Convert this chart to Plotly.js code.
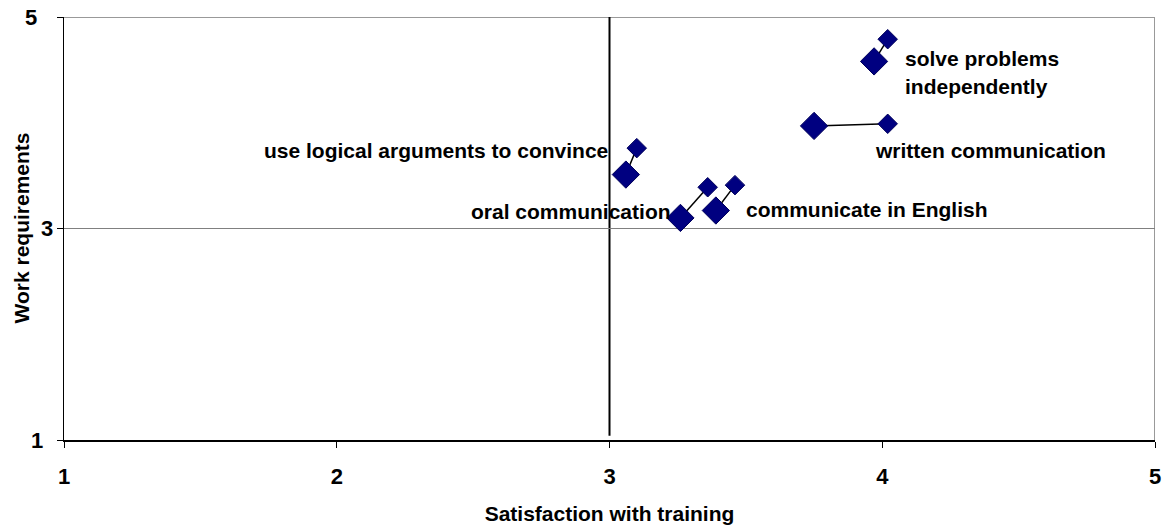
<!DOCTYPE html>
<html>
<head>
<meta charset="utf-8">
<script src="https://cdn.plot.ly/plotly-3.0.1.min.js"></script>
<style>
html,body{margin:0;padding:0;background:#fff;}
#chart{width:1163px;height:525px;}
</style>
</head>
<body>
<div id="chart"></div>
<script>
// Skills
var skills = ["solve problems<br>independently", "written communication", "use logical arguments to convince", "oral communication", "communicate in English"];
// Group A (small markers)
var satisfactionA = [4.02, 4.02, 3.10, 3.36, 3.46];
var workA = [4.79, 3.99, 3.76, 3.39, 3.41];
// Group B (large markers)
var satisfactionB = [3.97, 3.75, 3.06, 3.26, 3.39];
var workB = [4.58, 3.97, 3.51, 3.10, 3.17];
var xTicks = [1, 2, 3, 4, 5];
var yTicks = [1, 3, 5];
var midpoint = 3;
var xTitle = "Satisfaction with training";
var yTitle = "Work requirements";

// connectors
var lx = [], ly = [];
for (var i = 0; i < skills.length; i++) {
  lx.push(satisfactionA[i], satisfactionB[i], null);
  ly.push(workA[i], workB[i], null);
}

var navy = '#000080';
var traces = [
  {x: lx, y: ly, mode: 'lines', line: {color: '#000000', width: 1.5}, hoverinfo: 'skip', showlegend: false},
  {x: satisfactionB, y: workB, mode: 'markers', marker: {symbol: 'diamond', size: 21, color: navy, line: {color: '#00005a', width: 1}}, showlegend: false},
  {x: satisfactionA, y: workA, mode: 'markers', marker: {symbol: 'diamond', size: 15, color: navy, line: {color: '#00005a', width: 1}}, showlegend: false}
];

// label placement (pixel offsets relative to a point)
var labelPlace = [
  {ref: 'A', xshift: 15, yshift: -33, xanchor: 'left', lineGap: 28},
  {ref: 'A', xshift: -15, yshift: -27, xanchor: 'left'},
  {ref: 'B', xshift: -16, yshift: 24, xanchor: 'right'},
  {ref: 'B', xshift: -7, yshift: 6, xanchor: 'right'},
  {ref: 'B', xshift: 28, yshift: 1, xanchor: 'left'}
];
var annotations = [];
var lblFont = {family: 'Liberation Sans, Arial, sans-serif', size: 21, color: '#000000'};
for (var j = 0; j < skills.length; j++) {
  var p = labelPlace[j];
  var px = p.ref === 'A' ? satisfactionA[j] : satisfactionB[j];
  var py = p.ref === 'A' ? workA[j] : workB[j];
  var lines = skills[j].split('<br>');
  var n = lines.length;
  for (var k = 0; k < n; k++) {
    annotations.push({
      x: px, y: py, xref: 'x', yref: 'y', text: '<b>' + lines[k] + '</b>',
      showarrow: false, xanchor: p.xanchor, yanchor: 'middle',
      xshift: p.xshift, yshift: p.yshift + ((n - 1) / 2 - k) * (p.lineGap || 0),
      font: lblFont
    });
  }
}
var titleFont = {family: 'Liberation Sans, Arial, sans-serif', size: 21, color: '#000000'};
annotations.push({
  xref: 'paper', yref: 'paper', x: 0, y: 0.5, xshift: -43, xanchor: 'center', yanchor: 'middle',
  textangle: -90, showarrow: false, text: '<b>' + yTitle + '</b>', font: titleFont
});

var tickFont = {family: 'Liberation Sans, Arial, sans-serif', size: 22, color: '#000000'};
// y tick labels (placed as in the original, slightly staggered)
var yTickShift = {1: -19, 3: -9, 5: -25};
yTicks.forEach(function (v) {
  annotations.push({
    xref: 'paper', yref: 'y', x: 0, y: v, xanchor: 'right', yanchor: 'middle',
    xshift: yTickShift[v], yshift: 0, showarrow: false, text: '<b>' + v + '</b>', font: tickFont
  });
});

var shapes = [
  {type: 'line', xref: 'x', yref: 'y', x0: 1, x1: 5, y0: 5, y1: 5, line: {color: '#999999', width: 2}, layer: 'below'},
  {type: 'line', xref: 'x', yref: 'y', x0: 5, x1: 5, y0: 1, y1: 5, line: {color: '#999999', width: 2}, layer: 'below'},
  {type: 'line', xref: 'x', yref: 'y', x0: midpoint, x1: midpoint, y0: 1.04, y1: 5.06, line: {color: '#000000', width: 2}, layer: 'below'}
];

var layout = {
  width: 1163, height: 525,
  margin: {l: 64, r: 8, t: 17, b: 85},
  paper_bgcolor: '#ffffff', plot_bgcolor: '#ffffff',
  showlegend: false,
  xaxis: {
    range: [1, 5], tickvals: xTicks, ticktext: xTicks.map(function (v) { return '<b>' + v + '</b>'; }),
    showgrid: false, zeroline: false, showline: true, linecolor: '#000000', linewidth: 1.5,
    ticks: 'outside', ticklen: 6, tickcolor: '#000000', tickwidth: 1,
    ticklabelstandoff: 10,
    tickfont: tickFont,
    title: {text: '<b>' + xTitle + '</b>', font: titleFont, standoff: 20}
  },
  yaxis: {
    range: [1, 5], tickvals: yTicks, showticklabels: false,
    showgrid: true, gridcolor: '#808080', gridwidth: 1, zeroline: false,
    showline: true, linecolor: '#000000', linewidth: 1.5,
    ticks: 'outside', ticklen: 6, tickcolor: '#000000', tickwidth: 1
  },
  shapes: shapes,
  annotations: annotations,
  font: {family: 'Liberation Sans, Arial, sans-serif'}
};
Plotly.newPlot('chart', traces, layout, {displayModeBar: false, staticPlot: true});
</script>
</body>
</html>
